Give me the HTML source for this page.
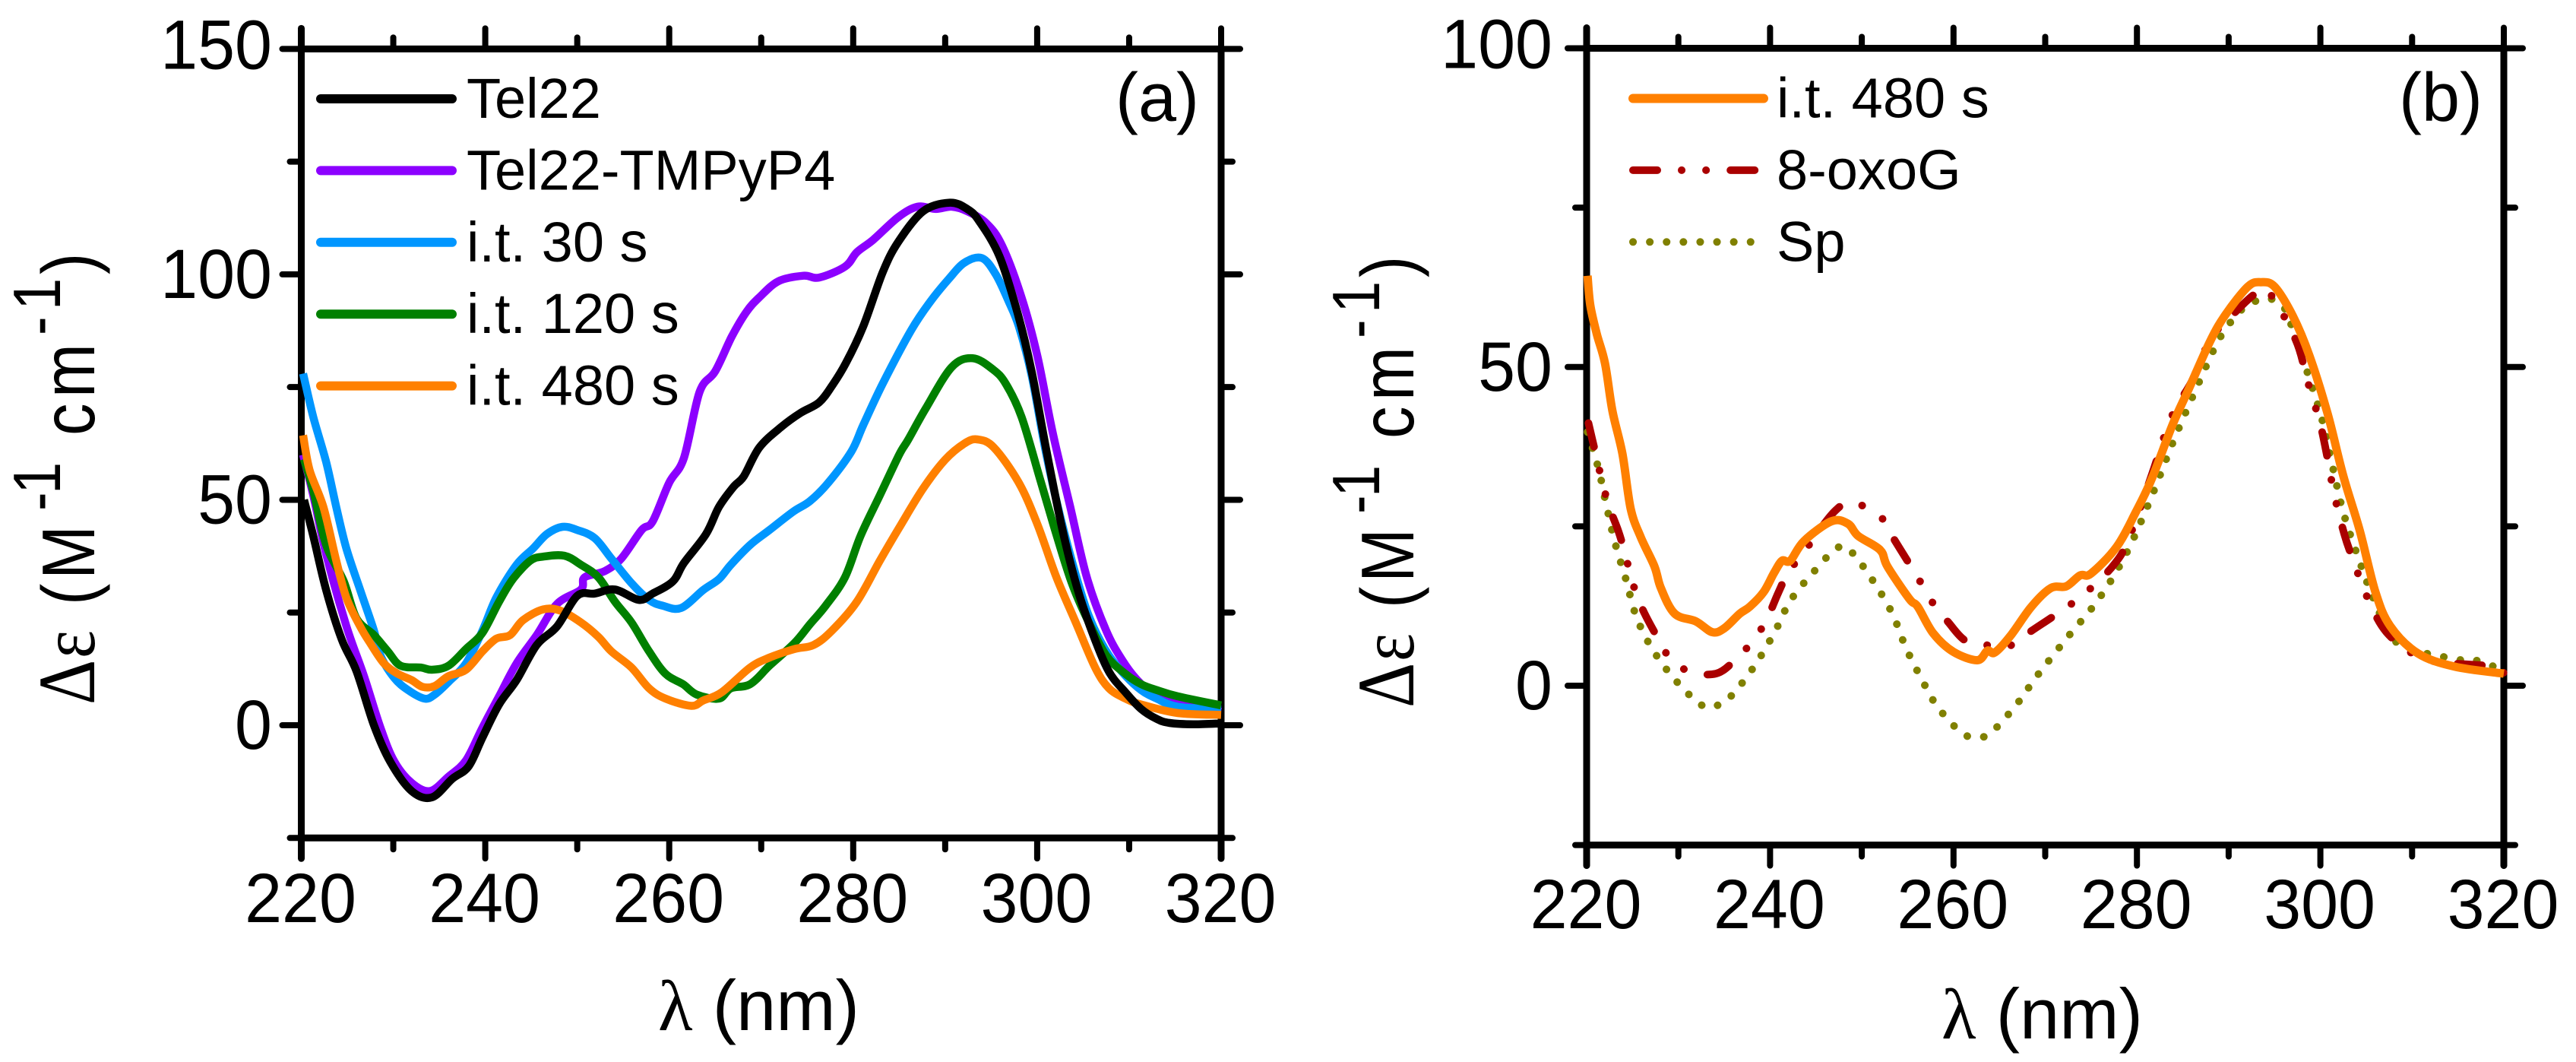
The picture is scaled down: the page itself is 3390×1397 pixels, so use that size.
<!DOCTYPE html>
<html lang="en">
<head>
<meta charset="utf-8">
<title>CD spectra panels (a) and (b)</title>
<style>
html,body{margin:0;padding:0;background:#fff;}
svg{display:block;}
text{font-family:"Liberation Sans",sans-serif;fill:#000;}
.serif{font-family:"Liberation Serif",serif;}
</style>
</head>
<body>
<svg id="fig" xmlns="http://www.w3.org/2000/svg" width="3390" height="1397" viewBox="0 0 3390 1397">
<rect width="3390" height="1397" fill="#fff"/>
<g id="panelA"></g>
<g id="panelB"></g>
</svg>
<script>
// ---- shared axis data ----
const xMajorTicks = [220, 240, 260, 280, 300, 320];
const xMinorTicks = [230, 250, 270, 290, 310];
const yMajorTicksA = [0, 50, 100, 150];
const yMinorTicksA = [-25, 25, 75, 125];
const yMajorTicksB = [0, 50, 100];
const yMinorTicksB = [-25, 25, 75];

// ---- panel (a) series ----
const tel22Nm = [220.3,221.3,222.7,224.4,226,227.9,229.7,232,234.2,236.4,238.2,239.7,241.5,243.4,245.6,247.8,250,251.9,254.1,256.7,258.2,260.4,261.6,264,265.4,267,268.1,269.8,272.2,274.3,276.3,277.7,279.2,281.1,283.2,284.9,287.6,290.5,292.4,293.7,295.9,297.9,299.4,301,302.7,304.4,306.1,307.8,309.6,311.3,313,314.4,317,320];
const tel22Val = [50,42,30,19,12,0,-8.2,-14.6,-16,-11.9,-9.1,-2.7,4.6,10,17.8,21.9,28.7,29.2,30.1,27.8,29.2,31.9,36,42.4,48.4,52.9,55.2,61.6,66.2,69.3,71.6,75.3,80.3,88.5,100.4,107.2,114,115.9,114.5,111.8,104,91.2,78.5,61,43.8,30.1,20,11.9,7.3,3.6,1.4,0.5,0.2,0.4];
const tmpyp4Nm = [220.2,221.3,222.7,224.9,226.8,228.6,230.1,232,234,236,237.9,239.7,241.5,243.4,245.6,247.8,250.4,250.8,253,254.8,257,258.2,260,261.6,263.3,265,266.8,268.4,269.8,271.9,274.6,276.3,279.1,280.4,282.2,284.9,287,289,290.7,292.4,294.5,296.2,298.3,300,301.7,303.6,305.4,307.5,309.2,310.9,313,316,320];
const tmpyp4Val = [60,51,38,22,11,-0.5,-8,-12.8,-14.6,-11.4,-7.8,-0.5,6.4,13.7,20,26.9,30.1,32.8,34.2,37,43.3,45.2,53.8,59.3,73.9,78.5,86.2,91.7,94.9,98.5,99.7,99.3,101.7,104.9,107.7,112.7,115,114.5,115,114,111.3,106.3,94.9,82.1,64.8,48.4,32.8,21,14.6,10,6.4,4.5,3];
const it30Nm = [220.2,221.3,222.7,223.8,224.9,226.4,227.9,228.6,230.1,231.6,233.4,234.5,236,237.9,239.7,241.2,243.4,245.2,246.7,248.4,250,251.9,253.7,255.9,257.8,259.3,261.3,263.7,265.4,266.7,268.8,270.9,273.5,275.3,277.3,279.8,281.1,283.2,286.3,288.4,290.4,292.1,294,295.5,296.9,298,299.4,301,302.7,304.8,306.1,307.8,309.6,311.3,313,315.3,320];
const it30Val = [78,68.4,58.4,48.4,39.2,30,21,15.5,10.5,7.8,5.9,6.8,9.6,13.7,21,28.3,35.6,39.2,42.4,44,43.3,41.5,37,31.5,27.8,26.5,26,30,32.4,35.6,40,43.3,47.4,49.7,53.8,60.7,66.6,75.7,87.6,94,99,102.6,103.6,100,94,88.5,77.6,60,44.7,29.2,21.9,15.5,11,7.8,5.9,4.1,3.5];
const it120Nm = [220.3,221.3,222.7,224.6,226,227.9,229.4,230.8,233,234.2,236,237.9,239.7,241.5,243,244.9,246.3,248.6,250.4,252.3,254.1,255.9,257.8,259.6,261.5,263,265.4,266.7,268.8,270.9,273.6,275.3,277,279.1,280.8,282.9,285,286,287.9,290.7,293,295.2,296.6,298.3,300.3,302,303.7,305.4,307.5,309.6,311.3,313,315.3,320];
const it120Val = [59,52,40,32,23.7,20,16.4,13.2,12.8,12.3,13.2,16.9,20.5,27.4,32.4,36.5,37.4,37.6,35.6,32.8,27.4,22.8,16.4,11.4,9.1,6.8,5.9,8.2,9.1,13.2,18.2,22.4,26.5,32.8,42,51,60,63.4,70.3,79.4,81.4,78.9,75.7,68.4,54.7,42.9,31.9,23.7,15.5,11.4,9.1,7.8,6.4,4.4];
const it480Nm = [220.2,220.9,222.4,223.8,224.9,226.4,227.5,229,230.5,232,233.2,234.5,236,237.9,239.7,241.2,242.7,244.1,246.3,248.2,250.4,252.3,253.7,255.9,257.8,259.6,262.4,263.7,265.7,268.8,270.9,273.6,275.7,277.7,280.4,282.9,285,287.6,290,292.1,293.5,295.3,298,300,302.1,304.2,306.3,307.8,309.6,311.3,315.3,320];
const it480Val = [64.3,56.6,48.4,36.5,28.3,21.9,18.2,13.7,11.4,10,8.5,8.7,10.9,12.3,16.4,19.2,20,23.3,25.7,25.4,22.8,19.6,16.4,12.8,8.2,5.9,4.3,5.5,7.3,12.8,15,16.9,17.8,21,27.4,36.5,43.8,52.5,58.9,62.5,63.4,61.6,53.8,44.7,32.8,22.8,12.8,8.2,5.9,4.6,2.7,2.3];

// ---- panel (b) series ----
const bOrangeNm = [220.1,220.4,221.1,222,222.8,223.9,224.8,225.9,227.4,228.1,229.6,231.9,233.7,235,236.7,237.8,239.3,240.4,241.3,242.2,243.7,246.7,248.5,249.6,252,252.8,255.2,256.1,257.8,260,262.6,263.7,264.5,266.2,268.5,270.6,272.3,273.8,275,277.8,279.9,281.6,283.9,285.7,288,289.7,292.1,293.5,295,297,298.8,300.8,302.5,304.3,306,307.6,310.6,314.6,320];
const bOrangeVal = [64.3,59.7,55.2,50.6,43.2,36.4,27.8,23.3,18.7,15.3,11.3,10.1,8.4,9,11.3,12.4,14.7,17.6,19.6,19.6,22.7,25.8,25.4,23.5,21.3,18.7,13.6,12.4,8.2,5.3,4,5.5,5.2,7.8,12.4,15.3,15.6,17.3,17.6,21.8,27.3,32.4,41,46.7,54.1,58.3,62.6,63.3,62.6,58,51.8,42.6,32.9,24.3,14.7,9.4,5.1,3,1.9];
const oxoNm = [220.2,220.9,221.6,222.4,223.5,224.3,225,226.1,227.4,228.9,231.2,234.1,236.1,238.1,239.6,240.9,242,243.7,247,249.1,252.1,253.3,254.8,256.1,257.6,259.4,261.5,264.5,266.2,268.5,270.8,273.2,275.2,277.5,279,281.6,283,284.2,286,288,290.3,293,294.4,297.3,298.6,299.9,300.6,301.5,302.6,303.6,305.1,307.2,310.6,313.8,319,320];
const oxoVal = [41.2,36.9,32.6,28.3,24.1,20.1,16.2,12,8.4,4.7,2.2,1.9,3.9,7,10.3,14.6,17.8,21,27.3,28.7,26.4,23.5,20,17,13.3,10,6.9,6.3,6.3,8.6,10.8,13.2,15.6,19,22.7,33,39.2,43.5,47.8,54.3,58,61.6,61.7,54.3,47.8,41.5,37,30.1,23.8,19.6,13.9,8.4,4.6,3.6,3,2];
const spNm = [220.1,221.3,222.2,223.1,224.3,225.4,227.1,229.6,232.6,234.4,235.9,238.3,240.5,242.2,244.6,247.3,248.8,251.2,253.3,254.8,256.5,258.3,261,262.9,264.3,266.9,269.2,272.6,275.1,277.3,279.3,281.6,283.9,286.3,288.9,290.9,292.3,294.3,295.7,296.6,299.9,301.2,302.6,304.5,306,308.4,314.6,316.9,320];
const spVal = [39.8,34,28,22.4,16.6,10.9,5.9,1,-3.1,-3,-1.4,3.1,8.4,13.3,17.6,21.6,21.1,16.5,11.4,6,1.1,-3.4,-7.5,-8.1,-7.1,-2.9,1.7,7.9,12.2,16.8,22.1,29.7,38.1,46.1,54.2,58.2,59.9,60.8,59.5,57.5,43.2,35.2,26.7,18.6,13,6.7,4.2,4,2.4];

// ---- legend / label text ----
const legendLabelsA = ['Tel22', 'Tel22-TMPyP4', 'i.t. 30 s', 'i.t. 120 s', 'i.t. 480 s'];
const legendLabelsB = ['i.t. 480 s', '8-oxoG', 'Sp'];

const NS = 'http://www.w3.org/2000/svg';
function mk(parent, tag, attrs, txt) {
  const e = document.createElementNS(NS, tag);
  for (const k in attrs) e.setAttribute(k, attrs[k]);
  if (txt !== undefined) e.textContent = txt;
  parent.appendChild(e);
  return e;
}
function kebab(s) { return s.toLowerCase().replace(/[^a-z0-9]+/g, '-'); }

// smooth path through the read points
function smoothPath(pts) {
  let d = 'M' + pts[0][0].toFixed(1) + ' ' + pts[0][1].toFixed(1);
  for (let i = 0; i < pts.length - 1; i++) {
    const p0 = pts[Math.max(0, i - 1)], p1 = pts[i], p2 = pts[i + 1], p3 = pts[Math.min(pts.length - 1, i + 2)];
    const c1x = p1[0] + (p2[0] - p0[0]) / 6, c1y = p1[1] + (p2[1] - p0[1]) / 6;
    const c2x = p2[0] - (p3[0] - p1[0]) / 6, c2y = p2[1] - (p3[1] - p1[1]) / 6;
    d += 'C' + c1x.toFixed(1) + ' ' + c1y.toFixed(1) + ' ' + c2x.toFixed(1) + ' ' + c2y.toFixed(1) + ' ' + p2[0].toFixed(1) + ' ' + p2[1].toFixed(1);
  }
  return d;
}

function drawPanel(root, cfg) {
  const sx = v => cfg.left + (v - 220) * (cfg.right - cfg.left) / 100;
  const sy = v => cfg.y0 - v * cfg.pxPerUnit;
  const top = sy(cfg.yMax), bot = sy(-25);

  // frame
  const sides = [
    ['left-spine', cfg.left, top - 27, cfg.left, bot + 27],
    ['right-spine', cfg.right, top, cfg.right, bot + 27],
    ['top-spine', cfg.left, top, cfg.right, top],
    ['bottom-spine', cfg.left, bot, cfg.right, bot]
  ];
  sides.forEach(s => {
    const l = mk(root, 'line', {x1: s[1], y1: s[2], x2: s[3], y2: s[4], stroke: '#000', 'stroke-width': 9, 'stroke-linecap': 'round'});
    
    
  });

  // x ticks
  xMajorTicks.forEach(v => {
    const x = sx(v);
    [[top, top - 27], [bot, bot + 27]].forEach(p => {
      const l = mk(root, 'line', {x1: x, y1: p[0], x2: x, y2: p[1], stroke: '#000', 'stroke-width': 8, 'stroke-linecap': 'round'});
      
      
    });
    const t = mk(root, 'text', {'text-anchor': 'middle', 'font-size': 88, transform: 'translate(' + (x - 1) + ',' + cfg.xLabelY + ') scale(1,1.04)'}, String(v));
    
    
  });
  xMinorTicks.forEach(v => {
    const x = sx(v);
    [[top, top - 15], [bot, bot + 15]].forEach(p => {
      const l = mk(root, 'line', {x1: x, y1: p[0], x2: x, y2: p[1], stroke: '#000', 'stroke-width': 8, 'stroke-linecap': 'round'});
      
      
    });
  });

  // y ticks
  cfg.yMajor.forEach(v => {
    const y = sy(v);
    [[cfg.left, cfg.left - 25], [cfg.right, cfg.right + 25]].forEach(p => {
      const l = mk(root, 'line', {x1: p[0], y1: y, x2: p[1], y2: y, stroke: '#000', 'stroke-width': 8, 'stroke-linecap': 'round'});
      
      
    });
    const dy = v === cfg.yMax ? 26 : 31;
    const t = mk(root, 'text', {'text-anchor': 'end', 'font-size': 88, transform: 'translate(' + cfg.yLabelX + ',' + (y + dy) + ') scale(1,1.04)'}, String(v));
    
    
  });
  cfg.yMinor.forEach(v => {
    const y = sy(v);
    [[cfg.left, cfg.left - 15], [cfg.right, cfg.right + 15]].forEach(p => {
      const l = mk(root, 'line', {x1: p[0], y1: y, x2: p[1], y2: y, stroke: '#000', 'stroke-width': 8, 'stroke-linecap': 'round'});
      
      
    });
  });

  // series
  cfg.series.forEach(s => {
    const pts = s.nm.map((n, i) => [sx(n), sy(s.val[i])]);
    const p = mk(root, 'path', {d: smoothPath(pts), fill: 'none', stroke: s.color, 'stroke-width': s.width, 'stroke-linejoin': 'round', 'stroke-linecap': s.dash ? 'round' : 'butt'});
    if (s.dash) p.setAttribute('stroke-dasharray', s.dash);
    
    
  });

  // legend
  cfg.legend.forEach((s, i) => {
    const y = cfg.legendY + i * 94.4;
    const l = mk(root, 'line', {x1: cfg.legX1, y1: y, x2: cfg.legX2, y2: y, stroke: s.color, 'stroke-width': s.dash ? 10 : 12, 'stroke-linecap': 'round'});
    if (s.dash) l.setAttribute('stroke-dasharray', s.dash);
    
    
    const t = mk(root, 'text', {x: cfg.legText, y: y + 25, 'font-size': 74}, s.label);
    
    
  });

  // panel tag
  const tag = mk(root, 'text', {x: cfg.tagX, y: 159, 'font-size': 90}, cfg.tag);
  
  

  // x title
  const xt = mk(root, 'text', {x: cfg.xTitleX, y: cfg.xTitleY, 'font-size': 94});
  
  
  mk(xt, 'tspan', {class: 'serif'}, 'λ');
  mk(xt, 'tspan', {}, ' (nm)');

  // y title: fragments placed along the rotated baseline
  const yt = mk(root, 'text', {transform: 'translate(' + cfg.yTitleX + ',' + cfg.yTitleB + ') rotate(-90) scale(1,1.16)', 'font-size': 85});
  
  
  const b = -39;
  mk(yt, 'tspan', {x: 0, y: 0, class: 'serif', 'font-size': 92}, 'Δ');
  mk(yt, 'tspan', {x: 61, y: 0, class: 'serif', 'font-size': 88}, 'ε');
  mk(yt, 'tspan', {x: 131, y: 0}, '(');
  mk(yt, 'tspan', {x: 165, y: 0}, 'M');
  mk(yt, 'tspan', {x: 255, y: b, 'font-size': 74}, '-');
  mk(yt, 'tspan', {x: 277, y: b, 'font-size': 76}, '1');
  mk(yt, 'tspan', {x: 354, y: 0}, 'c');
  mk(yt, 'tspan', {x: 404, y: 0}, 'm');
  mk(yt, 'tspan', {x: 486, y: b, 'font-size': 74}, '-');
  mk(yt, 'tspan', {x: 519, y: b, 'font-size': 76}, '1');
  mk(yt, 'tspan', {x: 566, y: 0}, ')');
}

const colBlack = '#000000', colPurple = '#8C00FF', colBlue = '#0096FF', colGreen = '#008000', colOrange = '#FF8000', colRed = '#AA0000', colOlive = '#808000';
const dashDotDot = '32 32 0.1 32 0.1 32';
const dotted = '0.1 22';

drawPanel(document.getElementById('panelA'), {
  left: 396.5, right: 1607, y0: 954, pxPerUnit: 5.931, yMax: 150,
  yMajor: yMajorTicksA, yMinor: yMinorTicksA,
  xLabelY: 1213, yLabelX: 358, xTitleX: 866, xTitleY: 1355, yTitleX: 124, yTitleB: 927,
  tag: '(a)', tagX: 1468, legX1: 422, legX2: 595, legText: 614, legendY: 130,
  series: [
    {label: 'Tel22-TMPyP4', nm: tmpyp4Nm, val: tmpyp4Val, color: colPurple, width: 10.5},
    {label: 'i.t. 30 s', nm: it30Nm, val: it30Val, color: colBlue, width: 10.5},
    {label: 'i.t. 120 s', nm: it120Nm, val: it120Val, color: colGreen, width: 10.5},
    {label: 'i.t. 480 s', nm: it480Nm, val: it480Val, color: colOrange, width: 10.5},
    {label: 'Tel22', nm: tel22Nm, val: tel22Val, color: colBlack, width: 10.5}
  ],
  legend: [
    {label: legendLabelsA[0], color: colBlack},
    {label: legendLabelsA[1], color: colPurple},
    {label: legendLabelsA[2], color: colBlue},
    {label: legendLabelsA[3], color: colGreen},
    {label: legendLabelsA[4], color: colOrange}
  ]
});

drawPanel(document.getElementById('panelB'), {
  left: 2088, right: 3295, y0: 902, pxPerUnit: 8.385, yMax: 100,
  yMajor: yMajorTicksB, yMinor: yMinorTicksB,
  xLabelY: 1221, yLabelX: 2043, xTitleX: 2555, xTitleY: 1366, yTitleX: 1860, yTitleB: 931,
  tag: '(b)', tagX: 3157, legX1: 2149, legX2: 2321, legText: 2338, legendY: 129.5,
  series: [
    {label: 'Sp', nm: spNm, val: spVal, color: colOlive, width: 10, dash: dotted},
    {label: '8-oxoG', nm: oxoNm, val: oxoVal, color: colRed, width: 10, dash: dashDotDot},
    {label: 'i.t. 480 s', nm: bOrangeNm, val: bOrangeVal, color: colOrange, width: 11}
  ],
  legend: [
    {label: legendLabelsB[0], color: colOrange},
    {label: legendLabelsB[1], color: colRed, dash: dashDotDot},
    {label: legendLabelsB[2], color: colOlive, dash: dotted}
  ]
});
</script>
</body>
</html>
